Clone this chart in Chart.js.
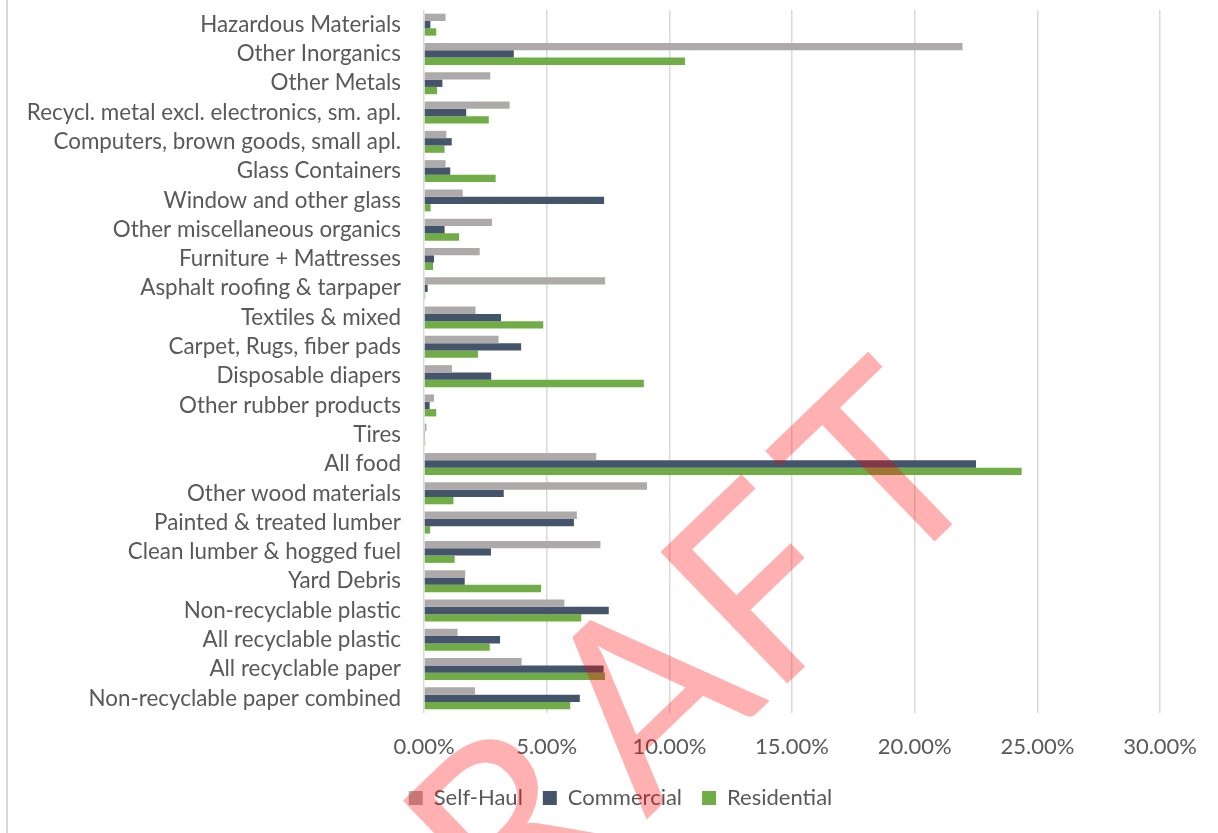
<!DOCTYPE html>
<html>
<head>
<meta charset="utf-8">
<script src="https://cdn.jsdelivr.net/npm/chart.js@4.4.1/dist/chart.umd.min.js"></script>
<style>
  html, body { margin: 0; padding: 0; background: #fff; }
  #wrap { position: relative; width: 1218px; height: 833px; }
  #wrap .edge { position: absolute; left: 6px; top: 0; bottom: 0; border-left: 2px solid #d9d9d9; }
</style>
</head>
<body>
<div id="wrap">
  <div class="edge"></div>
  <canvas id="myChart" width="1218" height="833"></canvas>
</div>
<script>
// waste composition by sector, percent of tons
const categories = [
  'Hazardous Materials',
  'Other Inorganics',
  'Other Metals',
  'Recycl. metal excl. electronics, sm. apl.',
  'Computers, brown goods, small apl.',
  'Glass Containers',
  'Window and other glass',
  'Other miscellaneous organics',
  'Furniture + Mattresses',
  'Asphalt roofing & tarpaper',
  'Textiles & mixed',
  'Carpet, Rugs, fiber pads',
  'Disposable diapers',
  'Other rubber products',
  'Tires',
  'All food',
  'Other wood materials',
  'Painted & treated lumber',
  'Clean lumber & hogged fuel',
  'Yard Debris',
  'Non-recyclable plastic',
  'All recyclable plastic',
  'All recyclable paper',
  'Non-recyclable paper combined'
];

const selfHaul = [0.88, 21.95, 2.70, 3.49, 0.91, 0.88, 1.58, 2.77, 2.27, 7.38, 2.10, 3.04,
                  1.14, 0.41, 0.10, 7.02, 9.09, 6.23, 7.19, 1.68, 5.72, 1.37, 3.98, 2.08];
const commercial = [0.26, 3.66, 0.75, 1.72, 1.13, 1.07, 7.34, 0.84, 0.41, 0.15, 3.14, 3.96,
                    2.74, 0.23, 0.02, 22.50, 3.25, 6.11, 2.73, 1.66, 7.53, 3.10, 7.32, 6.35];
const residential = [0.50, 10.64, 0.53, 2.64, 0.84, 2.92, 0.27, 1.43, 0.37, 0.05, 4.86, 2.20,
                     8.96, 0.50, 0.05, 24.36, 1.20, 0.25, 1.25, 4.77, 6.41, 2.68, 7.38, 5.96];

const xTicks = [0, 5, 10, 15, 20, 25, 30];

const textColor = '#595959';
const fontFamily = 'Lato, "Open Sans", sans-serif';

// big DRAFT stamp over everything, letters set one by one along a tilted baseline
const stampLetters = ['D', 'R', 'A', 'F', 'T'];
const stampInkLeft = [-355, -162, 0, 196, 341];

const draftStamp = {
  id: 'draftStamp',
  afterDraw(chart) {
    const ctx = chart.ctx;
    ctx.save();
    ctx.font = '255px Lato, sans-serif';
    ctx.translate(646, 820);
    ctx.rotate(-44 * Math.PI / 180);
    ctx.fillStyle = 'rgba(255, 0, 0, 0.31)';
    ctx.textAlign = 'left';
    ctx.textBaseline = 'alphabetic';
    stampLetters.forEach((ch, i) => {
      const m = ctx.measureText(ch);
      ctx.fillText(ch, stampInkLeft[i] + m.actualBoundingBoxLeft, 0);
    });
    ctx.restore();
  }
};

// legend sits a bit right of the canvas centre
const legendShift = {
  id: 'legendShift',
  afterLayout(chart) {
    chart.legend.left += 70;
  }
};

const ctx = document.getElementById('myChart');

new Chart(ctx, {
  type: 'bar',
  data: {
    labels: categories,
    datasets: [
      { label: 'Self-Haul', data: selfHaul, backgroundColor: '#aeaaaa' },
      { label: 'Commercial', data: commercial, backgroundColor: '#44546a' },
      { label: 'Residential', data: residential, backgroundColor: '#70ad47' }
    ]
  },
  options: {
    indexAxis: 'y',
    responsive: false,
    animation: false,
    categoryPercentage: 0.75,
    barPercentage: 1.0,
    layout: {
      padding: { left: 10, right: 57, top: 10, bottom: 14 }
    },
    scales: {
      x: {
        min: 0,
        max: 30,
        afterBuildTicks: (axis) => { axis.ticks = xTicks.map(v => ({ value: v })); },
        afterFit: (axis) => { axis.height = 54; },
        grid: { color: '#d9d9d9', lineWidth: 1.5, drawTicks: false },
        border: { display: false },
        ticks: {
          padding: 21,
          color: textColor,
          font: { family: fontFamily, size: 22 },
          callback: (v) => v.toFixed(2) + '%'
        }
      },
      y: {
        afterFit: (axis) => {
          axis.width = 414;
          axis.paddingTop = 0;
          axis.paddingBottom = 0;
        },
        grid: { display: false, drawTicks: false },
        border: { display: false },
        ticks: {
          padding: 23,
          autoSkip: false,
          color: textColor,
          font: { family: fontFamily, size: 22.4 }
        }
      }
    },
    plugins: {
      legend: {
        position: 'bottom',
        labels: {
          boxWidth: 14,
          boxHeight: 14,
          padding: 20,
          color: textColor,
          font: { family: fontFamily, size: 22 }
        }
      },
      tooltip: { enabled: false }
    }
  },
  plugins: [draftStamp, legendShift]
});
</script>
</body>
</html>
